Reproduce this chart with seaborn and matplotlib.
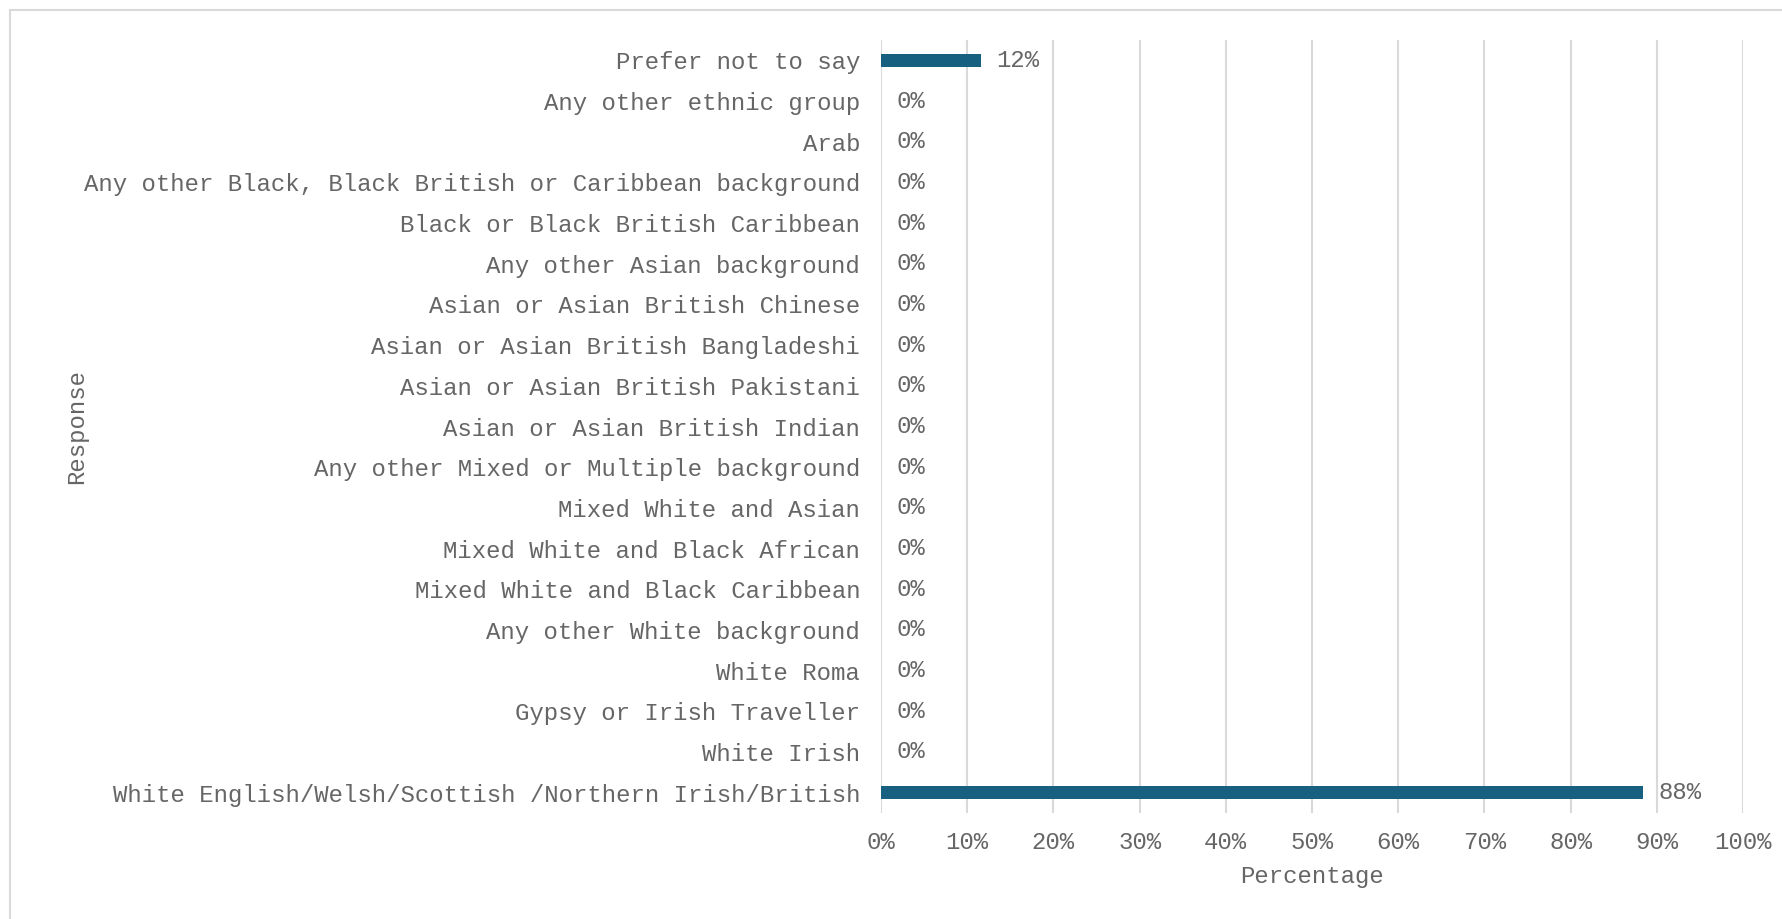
import matplotlib
matplotlib.use("Agg")
import matplotlib.pyplot as plt
import matplotlib.patches as mpatches
import seaborn as sns
import pandas as pd

categories = [
    "Prefer not to say",
    "Any other ethnic group",
    "Arab",
    "Any other Black, Black British or Caribbean background",
    "Black or Black British Caribbean",
    "Any other Asian background",
    "Asian or Asian British Chinese",
    "Asian or Asian British Bangladeshi",
    "Asian or Asian British Pakistani",
    "Asian or Asian British Indian",
    "Any other Mixed or Multiple background",
    "Mixed White and Asian",
    "Mixed White and Black African",
    "Mixed White and Black Caribbean",
    "Any other White background",
    "White Roma",
    "Gypsy or Irish Traveller",
    "White Irish",
    "White English/Welsh/Scottish /Northern Irish/British",
]
percentages = [11.6, 0, 0, 0, 0, 0, 0, 0, 0, 0, 0, 0, 0, 0, 0, 0, 0, 0, 88.4]
x_ticks = list(range(0, 101, 10))

sns.set_theme(style="white")
plt.rcParams["font.family"] = ["Liberation Mono", "DejaVu Sans"]

text_color = "#666666"
bar_color = "#17607f"
grid_color = "#d9d9d9"
fs = 17.3

df = pd.DataFrame({"Response": categories, "Percentage": percentages})

fig = plt.figure(figsize=(17.82, 9.19), dpi=100)
ax = fig.add_axes([881 / 1782, 1 - 813 / 919, (1743 - 881) / 1782, (813 - 40) / 919])

sns.barplot(data=df, x="Percentage", y="Response", orient="h",
            color=bar_color, width=0.31, saturation=1, linewidth=0,
            ax=ax, zorder=3)

ax.set_xlim(0, 100)
ax.set_ylim(len(categories) - 0.5, -0.5)
ax.set_xticks(x_ticks)
ax.set_xticklabels([f"{t}%" for t in x_ticks])
ax.grid(axis="x", color=grid_color, linewidth=1.5, zorder=0)
ax.grid(axis="y", visible=False)
ax.set_axisbelow(True)
for s in ax.spines.values():
    s.set_visible(False)

ax.tick_params(axis="both", length=0, labelsize=fs, labelcolor=text_color)
ax.tick_params(axis="y", pad=15)
ax.tick_params(axis="x", pad=13)

ax.set_xlabel("Percentage", fontsize=fs, color=text_color, labelpad=8)
ax.set_ylabel("Response", fontsize=fs, color=text_color)
ax.yaxis.set_label_coords(-(881 - 88) / (1743 - 881), 0.5)

for container in ax.containers:
    ax.bar_label(container, labels=[f"{v:.0f}%" for v in percentages],
                 padding=11, fontsize=fs, color=text_color)

# light outer frame
frame = mpatches.Rectangle((10 / 1782, -0.1), 1.2, 1.1 - 10 / 919,
                           transform=fig.transFigure, fill=False,
                           edgecolor="#d9d9d9", linewidth=1.5, clip_on=False)
fig.patches.append(frame)

fig.savefig("out.png", dpi=100, facecolor="white")
